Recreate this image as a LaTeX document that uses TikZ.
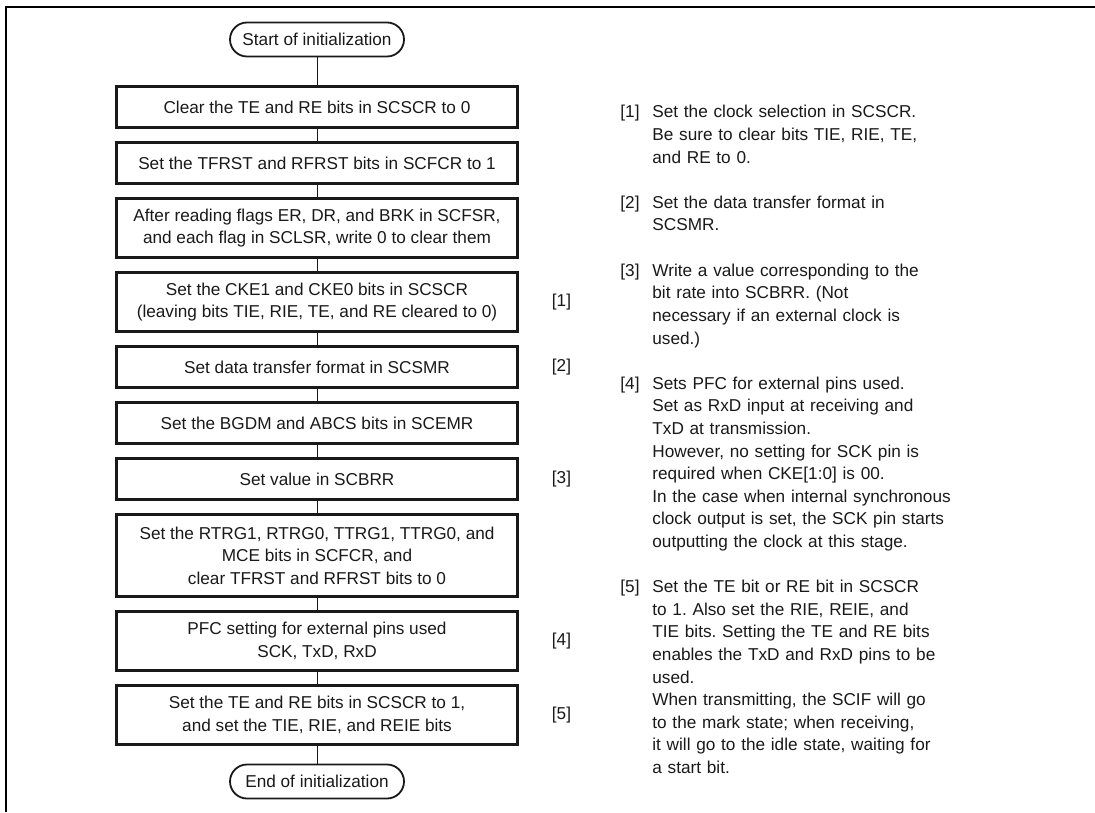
\documentclass[tikz,border=0pt]{standalone}
\usepackage{fontspec}
\setmainfont{Liberation Sans}
\usetikzlibrary{positioning}
\frenchspacing

\begin{document}
\begin{tikzpicture}[
    x=0.5pt, y=-0.5pt,
    node distance=7.5pt,
    every node/.style={font=\fontsize{8.6pt}{11.3pt}\selectfont, text=black!90},
    term/.style={rectangle, draw=black!90, line width=0.9pt, rounded corners=8.5pt,
                 minimum width=87pt, minimum height=17pt, inner sep=0pt, outer sep=0pt},
    stepbox/.style={rectangle, draw=black!90, line width=1.1pt, minimum width=200.5pt,
                    minimum height=20.5pt, align=center, inner sep=0pt, outer sep=0pt},
    twoline/.style={stepbox, minimum height=29.5pt},
    tag/.style={inner sep=0pt},
    notetag/.style={inner sep=0pt, anchor=base west},
    note/.style={inner sep=0pt, text width=160pt, align=left, anchor=base west},
    link/.style={line width=0.5pt, draw=black!90}
]
\useasboundingbox (0,0) rectangle (1095,812);

%% ── Frame ────────────────────────────────────────────────────────
\draw[line width=1.1pt] (6,812) -- (6,7) -- (1095,7);

%% ── Flow ─────────────────────────────────────────────────────────
\node[term] (start) at (317,39.5) {Start of initialization};
\node[stepbox, below=15pt of start] (clrte) {Clear the TE and RE bits in SCSCR to 0};
\node[stepbox, below=of clrte] (fiforst) {Set the TFRST and RFRST bits in SCFCR to 1};
\node[twoline, below=of fiforst] (flags)
    {After reading flags ER, DR, and BRK in SCFSR,\\and each flag in SCLSR, write 0 to clear them};
\node[twoline, below=of flags] (cke)
    {Set the CKE1 and CKE0 bits in SCSCR\\(leaving bits TIE, RIE, TE, and RE cleared to 0)};
\node[stepbox, below=of cke] (smr) {Set data transfer format in SCSMR};
\node[stepbox, below=of smr] (emr) {Set the BGDM and ABCS bits in SCEMR};
\node[stepbox, below=of emr] (brr) {Set value in SCBRR};
\node[stepbox, minimum height=41pt, below=of brr] (fcr)
    {Set the RTRG1, RTRG0, TTRG1, TTRG0, and\\MCE bits in SCFCR, and\\clear TFRST and RFRST bits to 0};
\node[twoline, below=of fcr] (pfc) {PFC setting for external pins used\\SCK, TxD, RxD};
\node[twoline, below=of pfc] (scr)
    {Set the TE and RE bits in SCSCR to 1,\\and set the TIE, RIE, and REIE bits};
\node[term, below=10pt of scr] (finish) {End of initialization};

%% ── Connectors ───────────────────────────────────────────────────
\draw[link] (start) -- (clrte);
\draw[link] (clrte) -- (fiforst);
\draw[link] (fiforst) -- (flags);
\draw[link] (flags) -- (cke);
\draw[link] (cke) -- (smr);
\draw[link] (smr) -- (emr);
\draw[link] (emr) -- (brr);
\draw[link] (brr) -- (fcr);
\draw[link] (fcr) -- (pfc);
\draw[link] (pfc) -- (scr);
\draw[link] (scr) -- (finish);

%% ── Step tags ────────────────────────────────────────────────────
\node[tag, right=17pt of cke] (t1) {[1]};
\node[tag, right=17pt of smr] (t2) {[2]};
\node[tag, right=17pt of brr] (t3) {[3]};
\node[tag, right=17pt of pfc] (t4) {[4]};
\node[tag, right=17pt of scr] (t5) {[5]};

%% ── Notes ────────────────────────────────────────────────────────
\node[notetag] (n1tag) at (620,118) {[1]};
\node[note] (n1) at (652,118)
    {Set the clock selection in SCSCR.\\Be sure to clear bits TIE, RIE, TE,\\and RE to 0.};
\node[notetag] (n2tag) at (620,208.4) {[2]};
\node[note] (n2) at (652,208.4) {Set the data transfer format in\\SCSMR.};
\node[notetag] (n3tag) at (620,276.2) {[3]};
\node[note] (n3) at (652,276.2)
    {Write a value corresponding to the\\bit rate into SCBRR. (Not\\necessary if an external clock is\\used.)};
\node[notetag] (n4tag) at (620,389.2) {[4]};
\node[note] (n4) at (652,389.2)
    {Sets PFC for external pins used.\\Set as RxD input at receiving and\\TxD at transmission.\\However, no setting for SCK pin is\\required when CKE[1:0] is 00.\\In the case when internal synchronous\\clock output is set, the SCK pin starts\\outputting the clock at this stage.};
\node[notetag] (n5tag) at (620,592.6) {[5]};
\node[note] (n5) at (652,592.6)
    {Set the TE bit or RE bit in SCSCR\\to 1. Also set the RIE, REIE, and\\TIE bits. Setting the TE and RE bits\\enables the TxD and RxD pins to be\\used.\\When transmitting, the SCIF will go\\to the mark state; when receiving,\\it will go to the idle state, waiting for\\a start bit.};

\end{tikzpicture}
\end{document}
